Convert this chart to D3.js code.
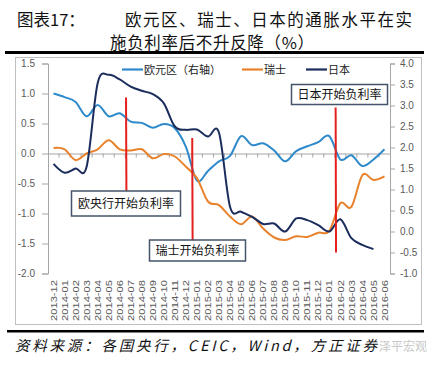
<!DOCTYPE html>
<html><head><meta charset="utf-8">
<script src="https://cdn.jsdelivr.net/npm/d3@7"></script>
<style>
html,body{margin:0;padding:0;background:#fff;}
svg{display:block;}
</style></head>
<body>
<svg id="c" width="432" height="365"></svg>
<script>
const categories = ["2013-12","2014-01","2014-02","2014-03","2014-04","2014-05","2014-06","2014-07","2014-08","2014-09","2014-10","2014-11","2014-12","2015-01","2015-02","2015-03","2015-04","2015-05","2015-06","2015-07","2015-08","2015-09","2015-10","2015-11","2015-12","2016-01","2016-02","2016-03","2016-04","2016-05","2016-06"];
const euroArea = [1.00,0.94,0.86,0.62,0.81,0.62,0.67,0.53,0.51,0.43,0.49,0.42,0.11,-0.45,-0.29,-0.13,-0.04,0.29,0.14,0.17,0.05,-0.13,0.04,0.12,0.19,0.29,-0.10,-0.03,-0.21,-0.10,0.07];
const swiss = [0.09,0.07,-0.11,0.00,0.07,0.22,0.07,0.05,0.07,-0.08,-0.01,-0.05,-0.22,-0.41,-0.80,-0.86,-1.05,-1.18,-1.05,-1.25,-1.40,-1.44,-1.38,-1.39,-1.32,-1.29,-0.83,-0.89,-0.36,-0.44,-0.38];
const japan = [1.61,1.40,1.50,1.54,3.53,3.73,3.62,3.45,3.35,3.27,3.05,2.50,2.42,2.43,2.26,2.35,0.59,0.47,0.35,0.18,0.19,0.00,0.31,0.27,0.15,0.00,0.29,-0.16,-0.32,-0.42,null];
const leftTicks = [-2.0,-1.5,-1.0,-0.5,0.0,0.5,1.0,1.5];
const rightTicks = [-1.0,-0.5,0.0,0.5,1.0,1.5,2.0,2.5,3.0,3.5,4.0];
const seriesNames = ["欧元区（右轴）","瑞士","日本"];
const eventLabels = ["欧央行开始负利率","瑞士开始负利率","日本开始负利率"];
const eventCategories = ["2014-07","2015-01","2016-02"];

const svg = d3.select("#c");
const L = 48, R = 390, T = 63.5, B = 273.5;
const x = d3.scaleBand().domain(categories).range([L, R]);
const yL = d3.scaleLinear().domain([-2, 1.5]).range([B, T]);
const yR = d3.scaleLinear().domain([-1, 4]).range([B, T]);
const cx = c => x(c) + x.bandwidth() / 2;

const colors = {euro: "#2f8acb", swiss: "#e8822c", japan: "#1b2d5c", red: "#e3201e"};
const grey = "#a6a6a6", labelColor = "#595959";
const cjk = "'Noto Sans CJK SC', 'Noto Sans', sans-serif";

// title
svg.append("text").attr("x", 17).attr("y", 26).attr("font-family", cjk).attr("font-size", 16.5)
  .attr("fill", "#111").text("图表17：");
svg.append("text").attr("x", 125).attr("y", 26).attr("font-family", cjk).attr("font-size", 16.5)
  .attr("fill", "#111").attr("textLength", 287).attr("lengthAdjust", "spacing").text("欧元区、瑞士、日本的通胀水平在实");
svg.append("text").attr("x", 110).attr("y", 49).attr("font-family", cjk).attr("font-size", 16.5)
  .attr("fill", "#111").attr("textLength", 204).attr("lengthAdjust", "spacing").text("施负利率后不升反降（%）");

// thick rules
svg.append("rect").attr("x", 5).attr("y", 51).attr("width", 419).attr("height", 3).attr("fill", "#000");
svg.append("rect").attr("x", 7).attr("y", 330).attr("width", 417).attr("height", 2.5).attr("fill", "#000");

// frame
svg.append("rect").attr("x", 15.5).attr("y", 57.5).attr("width", 406).attr("height", 267)
  .attr("fill", "none").attr("stroke", "#bfbfbf").attr("stroke-width", 1);

// left axis
const fmt = d => d.toFixed(1);
const gL = svg.append("g").attr("transform", `translate(${L},0)`)
  .call(d3.axisLeft(yL).tickValues(leftTicks).tickFormat(fmt).tickSizeOuter(0).tickSize(6).tickPadding(7));
const gR = svg.append("g").attr("transform", `translate(${R},0)`)
  .call(d3.axisRight(yR).tickValues(rightTicks).tickFormat(fmt).tickSizeOuter(0).tickSize(5).tickPadding(5));
[gL, gR].forEach(g => {
  g.select(".domain").attr("stroke", grey);
  g.selectAll(".tick line").attr("stroke", grey);
  g.selectAll(".tick text").attr("fill", labelColor).attr("font-family", "'Liberation Sans', Arial, sans-serif").attr("font-size", 10);
});

// zero line x-axis with ticks
const y0 = yL(0);
const gX = svg.append("g").attr("transform", `translate(0,${y0})`)
  .call(d3.axisBottom(x).tickValues([]).tickSizeOuter(0));
gX.select(".domain").attr("stroke", grey);
const bounds = d3.range(1, categories.length).map(i => x(categories[i]));
svg.append("g").selectAll("line").data(bounds).join("line")
  .attr("x1", d => d).attr("x2", d => d).attr("y1", y0).attr("y2", y0 + 4)
  .attr("stroke", grey).attr("stroke-width", 1);

// x labels
svg.append("g").selectAll("text").data(categories).join("text")
  .attr("transform", d => `translate(${cx(d)},280) rotate(-90)`)
  .attr("text-anchor", "end").attr("dy", "0.35em")
  .attr("font-family", "'Liberation Sans', Arial, sans-serif").attr("font-size", 9)
  .attr("textLength", 41).attr("lengthAdjust", "spacingAndGlyphs")
  .attr("fill", labelColor).text(d => d);

// lines
const mk = (ys) => d3.line().defined(d => d.v != null).x(d => cx(d.c)).y(d => ys(d.v)).curve(d3.curveCatmullRom.alpha(0));
const toPts = arr => arr.map((v, i) => ({c: categories[i], v}));
svg.append("path").datum(toPts(euroArea)).attr("d", mk(yL)).attr("fill", "none").attr("stroke", colors.euro).attr("stroke-width", 2);
svg.append("path").datum(toPts(swiss)).attr("d", mk(yL)).attr("fill", "none").attr("stroke", colors.swiss).attr("stroke-width", 2);
svg.append("path").datum(toPts(japan)).attr("d", mk(yR)).attr("fill", "none").attr("stroke", colors.japan).attr("stroke-width", 2);

// legend
const legend = [
  {name: seriesNames[0], color: colors.euro, x: 122},
  {name: seriesNames[1], color: colors.swiss, x: 242},
  {name: seriesNames[2], color: colors.japan, x: 306}
];
legend.forEach(l => {
  svg.append("line").attr("x1", l.x).attr("x2", l.x + 21).attr("y1", 69.5).attr("y2", 69.5)
    .attr("stroke", l.color).attr("stroke-width", 2.2);
  svg.append("text").attr("x", l.x + 22).attr("y", 73.5).attr("font-family", cjk).attr("font-size", 11)
    .attr("fill", "#222").text(l.name);
});

// event red lines
const redLines = [
  {c: eventCategories[0], y1: 97.5, y2: 191},
  {c: eventCategories[1], y1: 138, y2: 240},
  {c: eventCategories[2], y1: 107.5, y2: 252.5}
];
svg.append("g").selectAll("line").data(redLines).join("line")
  .attr("x1", d => x(d.c) + 0.8).attr("x2", d => x(d.c) + 1.2)
  .attr("y1", d => d.y1).attr("y2", d => d.y2)
  .attr("stroke", colors.red).attr("stroke-width", 2);

// event boxes
const boxes = [
  {t: eventLabels[0], x: 71.5, y: 191, w: 109, h: 25},
  {t: eventLabels[1], x: 149.5, y: 240, w: 96, h: 21},
  {t: eventLabels[2], x: 291.5, y: 84.5, w: 96, h: 20}
];
boxes.forEach(b => {
  svg.append("rect").attr("x", b.x).attr("y", b.y).attr("width", b.w).attr("height", b.h)
    .attr("fill", "#fff").attr("stroke", "#44546a").attr("stroke-width", 1.5);
  svg.append("text").attr("x", b.x + b.w / 2).attr("y", b.y + b.h / 2).attr("dy", "0.36em")
    .attr("text-anchor", "middle").attr("font-family", cjk).attr("font-size", 12)
    .attr("fill", "#111").text(b.t);
});

// source
svg.append("text").attr("x", 15).attr("y", 351).attr("font-family", cjk).attr("font-size", 14.5)
  .attr("font-style", "italic").attr("fill", "#111")
  .attr("textLength", 362).attr("lengthAdjust", "spacing")
  .text("资料来源：各国央行，CEIC，Wind，方正证券");
svg.append("text").attr("x", 379).attr("y", 351).attr("font-family", cjk).attr("font-size", 12)
  .attr("fill", "#c8c8c8").text("泽平宏观");
</script>
</body></html>
